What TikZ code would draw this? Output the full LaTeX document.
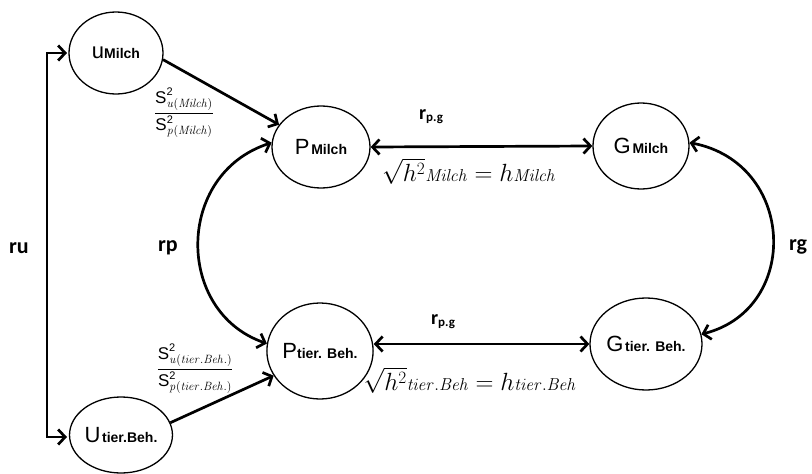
\documentclass[tikz,border=0pt]{standalone}
\usepackage{amsmath}
\usepackage[no-math]{fontspec}
\setmainfont{Liberation Sans}
\newfontfamily\calib{Carlito}
\usetikzlibrary{shapes.geometric,arrows.meta}
\tikzset{
  ell/.style={draw, ellipse, line width=1.3pt, inner sep=0pt},
  conn/.style={line width=2.7pt, draw=black},
  >={Straight Barb[length=7pt,width=15pt]},
  rlab/.style={font=\calib\bfseries\fontsize{22}{22}\selectfont, inner sep=0pt},
  frac/.style={font=\fontsize{17}{20}\selectfont, inner sep=0pt},
  form/.style={font=\fontsize{25}{28}\selectfont, inner sep=0pt},
}
\newcommand{\bigL}[1]{{\fontsize{22}{22}\selectfont #1}}
\newcommand{\smallL}[1]{{\fontsize{14}{14}\selectfont\bfseries #1}}
\newcommand{\fsub}[1]{\mbox{\fontsize{16}{16}\selectfont$\mathit{#1}$}}
\newcommand{\qsub}[1]{\mbox{\fontsize{12.5}{13}\selectfont$\mathit{#1}$}}
\newcommand{\qsup}{\mbox{\fontsize{11}{11}\selectfont 2}}
\begin{document}
\begin{tikzpicture}[x=1pt,y=-1pt]
\useasboundingbox (0,0) rectangle (812,474);

% nodes
\node[ell, minimum width=94pt, minimum height=82pt] (uM) at (116,53) {\bigL{u}\smallL{Milch}};
\node[ell, minimum width=90pt, minimum height=76pt] (uT) at (121,435) {\bigL{U}\,\smallL{tier.Beh.}};
\node[ell, minimum width=98pt, minimum height=82pt] (PM) at (321,147) {\bigL{P}\,\smallL{Milch}};
\node[ell, minimum width=100pt, minimum height=96pt] (PT) at (320,351) {\bigL{P}\smallL{tier. Beh.}};
\node[ell, minimum width=96pt, minimum height=86pt] (GM) at (641,146) {\bigL{G}\,\smallL{Milch}};
\node[ell, minimum width=102pt, minimum height=92pt] (GT) at (646,344) {\bigL{G}\,\smallL{tier. Beh.}};

% bracket r_u
\coordinate (bt) at (67,53);
\coordinate (bb) at (67,437);
\draw[conn,<->] (bt) -- ++(-20,0) |- (bb);
\node[rlab] (ru) at (19,248) {ru};

% u -> P
\draw[conn,->] (uM.-8) -- (PM.152);
\draw[conn,->] (uT.14) -- (PT.-152);

% horizontal P <-> G
\draw[conn,<->] (PM.east) -- (GM.west);
\draw[conn,<->] (PT.east |- GT.west) -- (GT.west);
\node[inner sep=0pt] (rpg1) at (431,117) {\calib\bfseries\fontsize{20}{20}\selectfont r\raisebox{-2pt}{\fontsize{13}{13}\selectfont p.g}};
\node[inner sep=0pt] (rpg2) at (443,322) {\calib\bfseries\fontsize{20}{20}\selectfont r\raisebox{-2pt}{\fontsize{13}{13}\selectfont p.g}};

% formulas
\node[form] (fm) at (469,171) {$\sqrt{h^2}\fsub{Milch} = h\fsub{Milch}$};
\node[form] (ft) at (470,380) {$\sqrt{h^2}\fsub{tier.Beh} = h\fsub{tier.Beh}$};

% fractions
\node[frac] (fu) at (184,113) {$\dfrac{\text{S}^{\qsup}_{\qsub{u(Milch)}}}{\text{S}^{\qsup}_{\qsub{p(Milch)}}}$};
\node[frac] (fl) at (195,369) {$\dfrac{\text{S}^{\qsup}_{\qsub{u(tier.Beh.)}}}{\text{S}^{\qsup}_{\qsub{p(tier.Beh.)}}}$};

% r_p arc
\draw[conn,<->] (PM.175) .. controls (175,174) and (175,312) .. (PT.172);
\node[rlab] (rp) at (168,248) {rp};

% r_g arc
\draw[conn,<->] (GM.4) .. controls (796,163) and (801,309) .. (GT.10);
\node[rlab] (rg) at (798,247) {rg};
\end{tikzpicture}
\end{document}
